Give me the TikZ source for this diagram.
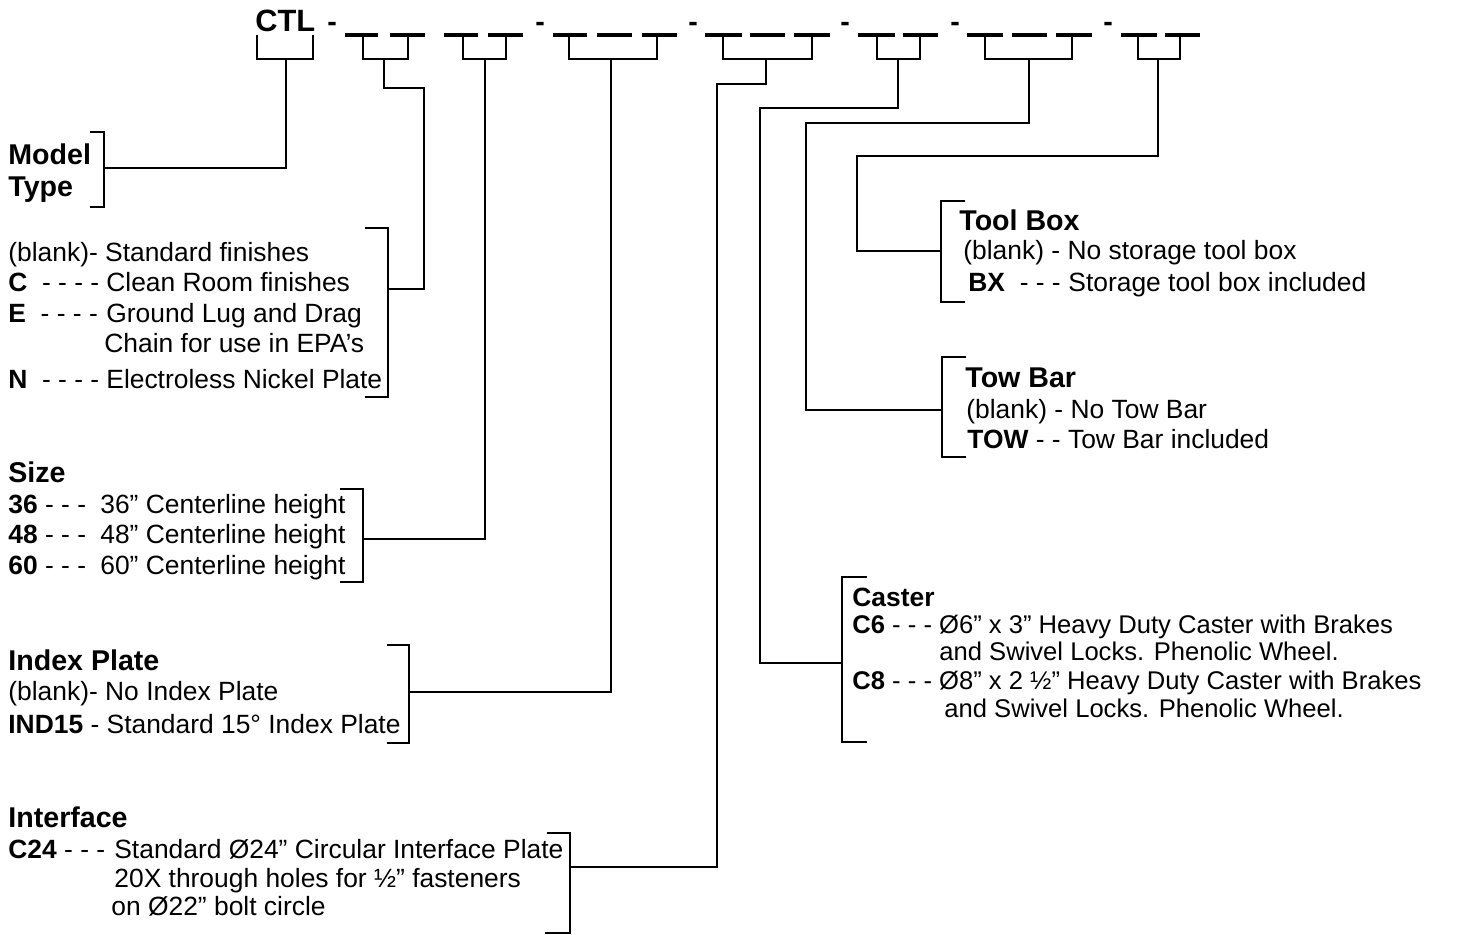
\documentclass[tikz,border=0pt]{standalone}
\usepackage{fontspec}
\setmainfont{Liberation Sans}
\usetikzlibrary{calc}

\newcommand{\lead}[2]{\makebox[#1][l]{#2}}

\tikzset{
  opt/.style={anchor=base west, inner sep=0pt, font=\fontsize{13.2}{15}\selectfont},
  head/.style={anchor=base west, inner sep=0pt, font=\fontsize{14.3}{16}\selectfont\bfseries},
  small/.style={anchor=base west, inner sep=0pt, font=\fontsize{12.8}{14}\selectfont},
  link/.style={line width=1pt},
  slot/.style={line width=1.8pt},
}

\begin{document}
\begin{tikzpicture}[x=0.5pt,y=-0.5pt]
    \useasboundingbox (0,0) rectangle (1461,935);

    % part number
    \node[head, font=\fontsize{15.4}{17}\selectfont\bfseries] (ctl) at (255,32) {CTL};
    \foreach \x in {327,535,688,840,950,1103} {\node[head] (dash\x) at (\x,32) {-};}
    \foreach \a/\b in {345/378,390/425,444/478,488/523,553/587,597/632,642/677,
                       705/742,750/785,794/830,858/895,903/938,967/1003,1012/1047,
                       1056/1092,1121/1157,1165/1200}
        {\draw[slot] (\a,35) -- (\b,35);}

    % brackets under the fields
    \foreach \l/\r/\m/\n in {257/313/286/g0,363/408/384/g1,463/506/485/g2,569/657/611/g3,
                             723/812/766/g4,877/920/898/g5,985/1072/1029/g6,1138/1180/1158/g7}
        {\draw[link] (\l,35) -- (\l,59) -- (\r,59) -- (\r,35);
         \coordinate (\n) at (\m,59);}

    % brackets round the option lists
    \draw[link] (90,132) -- (104,132) -- (104,207) -- (90,207);
    \coordinate (modelbr) at (104,168);
    \draw[link] (365,228) -- (388,228) -- (388,397) -- (365,397);
    \coordinate (finbr) at (388,289);
    \draw[link] (340,489) -- (363,489) -- (363,582) -- (340,582);
    \coordinate (sizebr) at (363,539);
    \draw[link] (387,645) -- (409,645) -- (409,743) -- (387,743);
    \coordinate (indexbr) at (409,692);
    \draw[link] (547,833) -- (570,833) -- (570,933) -- (545,933);
    \coordinate (ifacebr) at (570,867);
    \draw[link] (965,201) -- (941,201) -- (941,302) -- (965,302);
    \coordinate (toolbr) at (941,251);
    \draw[link] (966,357) -- (942,357) -- (942,457) -- (966,457);
    \coordinate (towbr) at (942,410);
    \draw[link] (867,577) -- (842,577) -- (842,742) -- (867,742);
    \coordinate (casterbr) at (842,663);

    % leaders
    \draw[link] (g0) |- (modelbr);
    \draw[link] (g1) |- (424,88) |- (finbr);
    \draw[link] (g2) |- (sizebr);
    \draw[link] (g3) |- (indexbr);
    \draw[link] (g4) |- (717,84) |- (ifacebr);
    \draw[link] (g5) |- (760,108) |- (casterbr);
    \draw[link] (g6) |- (806,123) |- (towbr);
    \draw[link] (g7) |- (857,156) |- (toolbr);

    % model type
    \node[head] (model1) at (8,165) {Model};
    \node[head] (model2) at (8,197) {Type};

    % finishes
    \node[opt] (fin1) at (8,262) {(blank)- Standard finishes};
    \node[opt] (fin2) at (8,292) {\lead{49pt}{\textbf{C}\ \ - - - -}Clean Room finishes};
    \node[opt] (fin3) at (8,323) {\lead{49pt}{\textbf{E}\ \ - - - -}Ground Lug and Drag};
    \node[opt] (fin4) at (104,353) {Chain for use in EPA’s};
    \node[opt] (fin5) at (8,388) {\lead{49pt}{\textbf{N}\ \ - - - -}Electroless Nickel Plate};

    % size
    \node[head] (size0) at (8,482) {Size};
    \node[opt] (size1) at (8,513) {\lead{46pt}{\textbf{36} - - -}36” Centerline height};
    \node[opt] (size2) at (8,543) {\lead{46pt}{\textbf{48} - - -}48” Centerline height};
    \node[opt] (size3) at (8,574) {\lead{46pt}{\textbf{60} - - -}60” Centerline height};

    % index plate
    \node[head] (index0) at (8,670) {Index Plate};
    \node[opt] (index1) at (8,700) {(blank)- No Index Plate};
    \node[opt] (index2) at (8,733) {\textbf{IND15} - Standard 15° Index Plate};

    % interface
    \node[head] (iface0) at (8,827) {Interface};
    \node[opt] (iface1) at (8,858) {\lead{53pt}{\textbf{C24} - - -}Standard Ø24” Circular Interface Plate};
    \node[opt] (iface2) at (114,887) {20X through holes for ½” fasteners};
    \node[opt] (iface3) at (111,915) {on Ø22” bolt circle};

    % tool box
    \node[head] (tool0) at (959,231) {Tool Box};
    \node[opt] (tool1) at (963,260) {(blank) - No storage tool box};
    \node[opt] (tool2) at (968,292) {\lead{50pt}{\textbf{BX}\ \ - - -}Storage tool box included};

    % tow bar
    \node[head] (tow0) at (965,387) {Tow Bar};
    \node[opt] (tow1) at (966,418) {(blank) - No Tow Bar};
    \node[opt] (tow2) at (967,448) {\textbf{TOW} - - Tow Bar included};

    % caster
    \node[head, font=\fontsize{13.2}{15}\selectfont\bfseries] (caster0) at (852,606) {Caster};
    \node[small] (caster1) at (852,633) {\textbf{C6} - - - Ø6” x 3” Heavy Duty Caster with Brakes};
    \node[small] (caster2) at (939,660) {and Swivel Locks. Phenolic Wheel.};
    \node[small] (caster3) at (852,689) {\textbf{C8} - - - Ø8” x 2 ½” Heavy Duty Caster with Brakes};
    \node[small] (caster4) at (944,717) {and Swivel Locks. Phenolic Wheel.};
\end{tikzpicture}
\end{document}
